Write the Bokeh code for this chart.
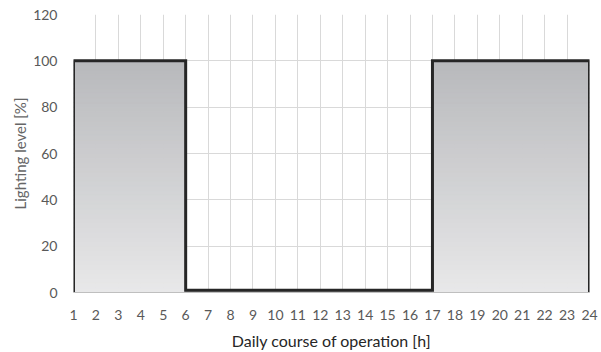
from bokeh.plotting import figure
from bokeh.embed import file_html
from bokeh.resources import INLINE
from bokeh.models import FixedTicker, Range1d

# ---- data ----
hours = list(range(1, 25))
levels = [100] * 5 + [1] * 11 + [100] * 8   # lighting level [%] from each hour on
y_ticks = [0, 20, 40, 60, 80, 100, 120]
x_label = "Daily course of operation [h]"
y_label = "Lighting level [%]"

p = figure(frame_width=516, frame_height=278, output_backend="svg", toolbar_location=None,
           x_range=Range1d(1, 24), y_range=Range1d(0, 120),
           min_border_left=73, min_border_right=10, min_border_top=14, min_border_bottom=56)
p.outline_line_color = None
p.background_fill_color = "white"
p.border_fill_color = "white"

# gradient fill, built block by block
def lerp(c0, c1, t):
    return "#%02x%02x%02x" % tuple(int(round(a + (b - a) * t)) for a, b in zip(c0, c1))

bottom_c = (0xe8, 0xe8, 0xe9)
top_c = (0xb8, 0xb9, 0xbc)
blocks = []
start = 0
for i in range(1, len(hours)):
    if levels[i] != levels[start] or i == len(hours) - 1:
        blocks.append((hours[start], hours[i], levels[start]))
        start = i
N = 50
L, R, B, T, C = [], [], [], [], []
for x0, x1, lv in blocks:
    for k in range(N):
        L.append(x0); R.append(x1)
        B.append(lv * k / N); T.append(lv * (k + 1) / N)
        C.append(lerp(bottom_c, top_c, (k + 0.5) / N))
p.quad(left=L, right=R, bottom=B, top=T, fill_color=C, line_color=C, line_width=1)

# outline
xs = [hours[0]]
ys = [0]
for i in range(len(hours) - 1):
    xs += [hours[i], hours[i + 1]]
    ys += [levels[i], levels[i]]
xs.append(hours[-1]); ys.append(0)
p.line(xs, ys, line_color="#262626", line_width=3, line_join="miter")

# axes
p.xaxis.ticker = FixedTicker(ticks=hours)
p.yaxis.ticker = FixedTicker(ticks=y_ticks)
for ax in (p.xaxis[0], p.yaxis[0]):
    ax.major_tick_line_color = None
    ax.minor_tick_line_color = None
    ax.major_label_text_font = "Lato"
    ax.major_label_text_font_size = "14px"
    ax.major_label_text_color = "#595959"
    ax.axis_label_text_font = "Lato"
    ax.axis_label_text_font_style = "normal"
p.xaxis.axis_line_color = "#bfbfbf"
p.yaxis.axis_line_color = None
p.xaxis.major_label_standoff = 11
p.yaxis.major_label_standoff = 10
p.xaxis.axis_label = x_label
p.xaxis.axis_label_text_font_size = "16px"
p.xaxis.axis_label_text_color = "#262626"
p.xaxis.axis_label_standoff = 8
p.yaxis.axis_label = y_label
p.yaxis.axis_label_text_font_size = "15px"
p.yaxis.axis_label_text_color = "#666666"
p.yaxis.axis_label_standoff = 1

p.xgrid.ticker = FixedTicker(ticks=hours)
p.ygrid.ticker = FixedTicker(ticks=y_ticks)
p.xgrid.grid_line_color = "#d9d9d9"
p.ygrid.grid_line_color = "#d9d9d9"
p.xgrid.level = "underlay"
p.ygrid.level = "underlay"

open("out.html", "w").write(file_html(p, INLINE))
